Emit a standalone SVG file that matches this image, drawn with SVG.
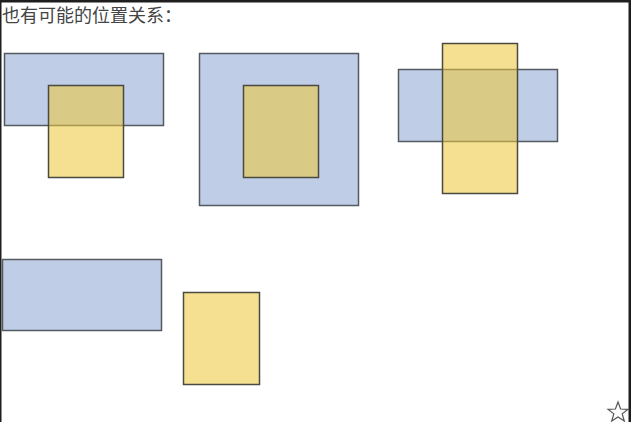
<svg xmlns="http://www.w3.org/2000/svg" width="631" height="422" viewBox="0 0 631 422">
<style>
.b{fill:#bfcde6;stroke:#555a60;stroke-width:1.5}
.y{fill:#edc83b;fill-opacity:0.56;stroke:#4a4a40;stroke-width:1.5}
.t{font-family:"Noto Sans CJK SC","Noto Sans CJK JP",sans-serif;font-size:18px;fill:#444}
</style>
<rect x="0" y="0" width="631" height="422" fill="#fff"/>
<rect x="0" y="0" width="631" height="2.5" fill="#1e1e1e"/>
<rect x="0" y="0" width="1.5" height="422" fill="#1e1e1e"/>
<rect x="628.5" y="0" width="2.5" height="422" fill="#1e1e1e"/>
<text class="t" x="2" y="22">也有可能的位置关系：</text>
<g id="pair1">
<rect class="b" x="4.5" y="53.5" width="159" height="72"/>
<rect class="y" x="48.5" y="85.5" width="75" height="92"/>
</g>
<g id="pair2">
<rect class="b" x="199.5" y="53.5" width="159" height="152"/>
<rect class="y" x="243.5" y="85.5" width="75" height="92"/>
</g>
<g id="pair3">
<rect class="b" x="398.5" y="69.5" width="159" height="72"/>
<rect class="y" x="442.5" y="43.5" width="75" height="150"/>
</g>
<g id="pair4">
<rect class="b" x="2.5" y="259.5" width="159" height="71"/>
<rect class="y" x="183.5" y="292.5" width="76" height="92"/>
</g>
<g id="connectors"></g>
<path d="M618,402 L620.6,409 L628,409.3 L622.2,413.9 L624.3,421 L618,416.9 L611.7,421 L613.8,413.9 L608,409.3 L615.4,409 Z" fill="#fff" stroke="#555" stroke-width="1.2"/>
</svg>
